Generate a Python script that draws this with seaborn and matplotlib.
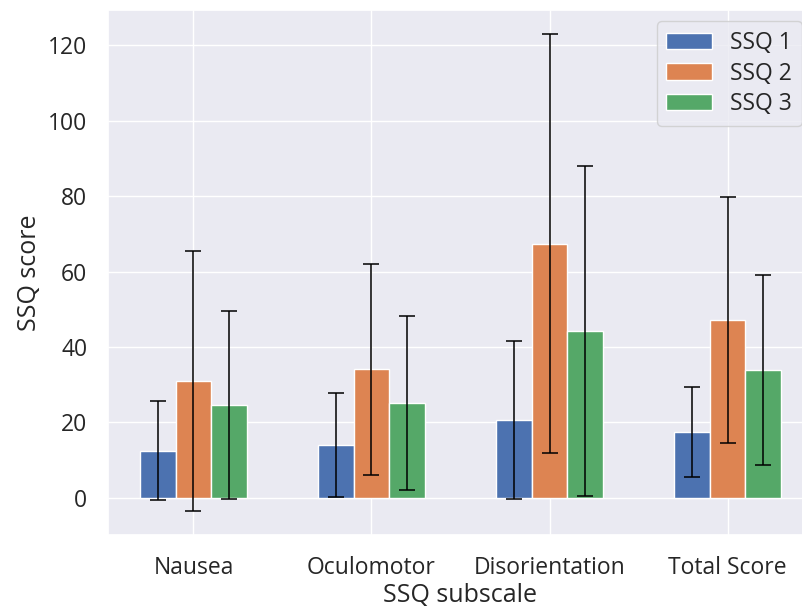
import numpy as np
import pandas as pd
import seaborn as sns
import matplotlib
matplotlib.use("Agg")
import matplotlib.pyplot as plt

# SSQ subscales and session means / standard deviations
subscales = ["Nausea", "Oculomotor", "Disorientation", "Total Score"]
sessions = ["SSQ 1", "SSQ 2", "SSQ 3"]

ssq1_mean = [12.5, 14.0, 20.7, 17.5]
ssq1_sd = [13.1, 13.8, 20.9, 12.0]
ssq2_mean = [31.0, 34.1, 67.4, 47.1]
ssq2_sd = [34.5, 27.9, 55.6, 32.6]
ssq3_mean = [24.6, 25.2, 44.2, 33.9]
ssq3_sd = [25.0, 23.1, 43.7, 25.2]

means = [ssq1_mean, ssq2_mean, ssq3_mean]
sds = [ssq1_sd, ssq2_sd, ssq3_sd]

# long-form table for seaborn
rows = []
for s, m_list, sd_list in zip(sessions, means, sds):
    for sub, m, sd in zip(subscales, m_list, sd_list):
        rows.append({"subscale": sub, "session": s, "score": m, "sd": sd})
df = pd.DataFrame(rows)

sns.set_theme(style="darkgrid", font_scale=1.5)
plt.rcParams["font.family"] = ["Open Sans", "DejaVu Sans"]

fig = plt.figure(figsize=(8.03, 6.09), dpi=100)
ax = fig.add_axes([108 / 803, 74 / 609, 705 / 803, 525 / 609])

sns.barplot(data=df, x="subscale", y="score", hue="session", palette="deep",
            saturation=1, width=0.6, gap=0, errorbar=None,
            edgecolor="white", linewidth=1, ax=ax)

# error bars at the centre of each bar drawn by seaborn
for container, s in zip(ax.containers, sessions):
    sub_df = df[df["session"] == s]
    xs = [p.get_x() + p.get_width() / 2 for p in container.patches]
    ax.errorbar(xs, sub_df["score"].values, yerr=sub_df["sd"].values,
                fmt="none", ecolor="black", elinewidth=1.1, capsize=6,
                capthick=1.1, zorder=3)

ax.set_xlim(-0.48, 3.48)
ax.xaxis.grid(True)
ax.set_axisbelow(True)
ax.tick_params(axis="both", pad=9)
ax.set_xlabel("SSQ subscale", labelpad=2)
ax.set_ylabel("SSQ score")
ax.set_yticks([0, 20, 40, 60, 80, 100, 120])
ax.legend(loc="upper right", labelspacing=0.3)

fig.savefig("out.png", dpi=100)
